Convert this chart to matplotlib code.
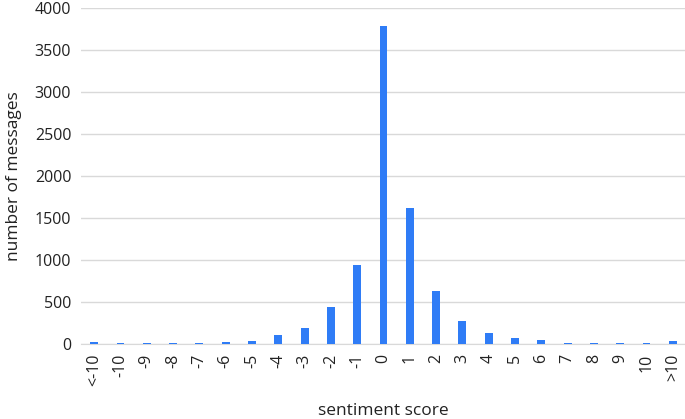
import matplotlib
matplotlib.use("Agg")
import matplotlib.pyplot as plt

categories = ["<-10", "-10", "-9", "-8", "-7", "-6", "-5", "-4", "-3", "-2", "-1", "0",
              "1", "2", "3", "4", "5", "6", "7", "8", "9", "10", ">10"]
counts = [26, 6, 6, 6, 16, 24, 40, 113, 185, 440, 940, 3780,
          1620, 630, 270, 128, 76, 52, 16, 16, 6, 6, 30]
yticks = [0, 500, 1000, 1500, 2000, 2500, 3000, 3500, 4000]

plt.rcParams['font.family'] = ['Open Sans', 'DejaVu Sans']
fig = plt.figure(figsize=(6.85, 4.19), dpi=100)
ax = fig.add_axes([81/685, 1 - 344/419, (686 - 81)/685, (344 - 8)/419])
x = list(range(len(categories)))
ax.bar(x, counts, width=0.3, color="#2f7cf6", zorder=3)
ax.set_xlim(-0.5, len(categories) - 0.5)
ax.set_ylim(0, 4000)
ax.set_yticks(yticks)
ax.set_yticklabels([str(v) for v in yticks], fontsize=11.5, color="#222222")
ax.set_xticks(x)
ax.set_xticklabels(categories, rotation=90, fontsize=11.5, color="#222222")
ax.yaxis.grid(True, color="#d9d9d9", linewidth=1, zorder=0)
for s in ["top", "right", "left"]:
    ax.spines[s].set_visible(False)
ax.spines["bottom"].set_color("#d9d9d9")
ax.tick_params(axis="both", length=0, pad=7)
ax.set_xlabel("sentiment score", fontsize=12.5, color="#222222", labelpad=12)
ax.set_ylabel("number of messages", fontsize=12.5, color="#222222", labelpad=9)
fig.savefig("out.png", dpi=100)
